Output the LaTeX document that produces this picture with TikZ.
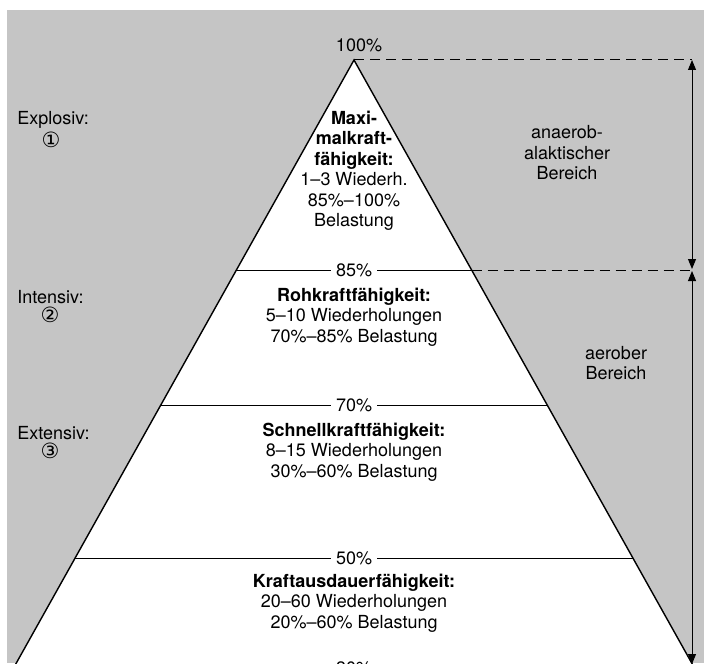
\documentclass[tikz,border=0pt]{standalone}
\usepackage{fontspec}
\setmainfont{TeX Gyre Heros}
\newfontfamily\circfont{DejaVu Sans}
\usetikzlibrary{arrows.meta}
\definecolor{paper}{RGB}{197,197,197}

\begin{document}
\begin{tikzpicture}[x=0.5pt, y=-0.5pt,
    edge/.style={line width=0.7pt},
    level line/.style={line width=0.5pt},
    guide/.style={dash pattern=on 5pt off 3pt, line width=0.5pt},
    span arrow/.style={{Triangle[length=5pt,width=4pt]}-{Triangle[length=5pt,width=4pt]}, line width=0.5pt},
    txt/.style={font=\fontsize{9}{10.25}\selectfont, inner sep=0pt},
    block/.style={txt, align=center},
    pct/.style={txt, fill=white, inner xsep=2.5pt, inner ysep=1pt},
    side/.style={txt, anchor=west},
    circnum/.style={inner sep=0pt, font=\circfont\fontsize{10.5}{12}\selectfont}
]
    \useasboundingbox (0,0) rectangle (704,663);
    \fill[paper] (7,10) rectangle (704,663);

    % pyramid
    \coordinate (apex) at (354,60);
    \coordinate (baseL) at (-4.4,700);
    \coordinate (baseR) at (712.4,700);
    \fill[white] (apex) -- (baseL) -- (baseR) -- cycle;
    \draw[edge] (baseL) -- (apex) -- (baseR);

    % levels
    \coordinate (l85) at (236.4,270);
    \coordinate (r85) at (471.6,270);
    \coordinate (l70) at (160.8,405);
    \coordinate (r70) at (547.2,405);
    \coordinate (l50) at (75.1,558);
    \coordinate (r50) at (632.9,558);
    \coordinate (l30) at (12.4,668);
    \coordinate (r30) at (695.6,668);

    \node[txt] (p100) at (359,45) {100\%};
    \node[pct] (p85) at (354,270) {85\%};
    \node[pct] (p70) at (354,405) {70\%};
    \node[pct] (p50) at (354,558) {50\%};
    \node[pct] (p30) at (354,668) {30\%};

    \draw[level line] (l85) -- (p85) -- (r85);
    \draw[level line] (l70) -- (p70) -- (r70);
    \draw[level line] (l50) -- (p50) -- (r50);
    \draw[level line] (l30) -- (p30) -- (r30);

    % blocks
    \node[block] (maxi) at (354,171) {\textbf{Maxi-}\\\textbf{malkraft-}\\\textbf{fähigkeit:}\\1--3 Wiederh.\\85\%--100\%\\Belastung};
    \node[block] (roh) at (354,317) {\textbf{Rohkraftfähigkeit:}\\5--10 Wiederholungen\\70\%--85\% Belastung};
    \node[block] (schnell) at (354,452) {\textbf{Schnellkraftfähigkeit:}\\8--15 Wiederholungen\\30\%--60\% Belastung};
    \node[block] (ausdauer) at (354,603) {\textbf{Kraftausdauerfähigkeit:}\\20--60 Wiederholungen\\20\%--60\% Belastung};

    % methods
    \node[side] (explosiv) at (17,120) {Explosiv:};
    \node[circnum] (m1) at (51,140) {①};
    \node[side] (intensiv) at (17,297) {Intensiv:};
    \node[circnum] (m2) at (50,315) {②};
    \node[side] (extensiv) at (17,433) {Extensiv:};
    \node[circnum] (m3) at (50,451) {③};

    % energy ranges
    \node[block] (anaerob) at (567,153) {anaerob-\\alaktischer\\Bereich};
    \node[block] (aerob) at (616,363) {aerober\\Bereich};

    \coordinate (ttop) at (692,60);
    \coordinate (tmidA) at (692,269);
    \coordinate (tmidB) at (692,271);
    \coordinate (tmid) at (692,270);
    \coordinate (tbot) at (692,664);
    \draw[guide] (apex) -- (ttop);
    \draw[guide] (r85) -- (tmid);
    \draw[span arrow] (ttop) -- (tmidA);
    \draw[span arrow] (tmidB) -- (tbot);
\end{tikzpicture}
\end{document}
